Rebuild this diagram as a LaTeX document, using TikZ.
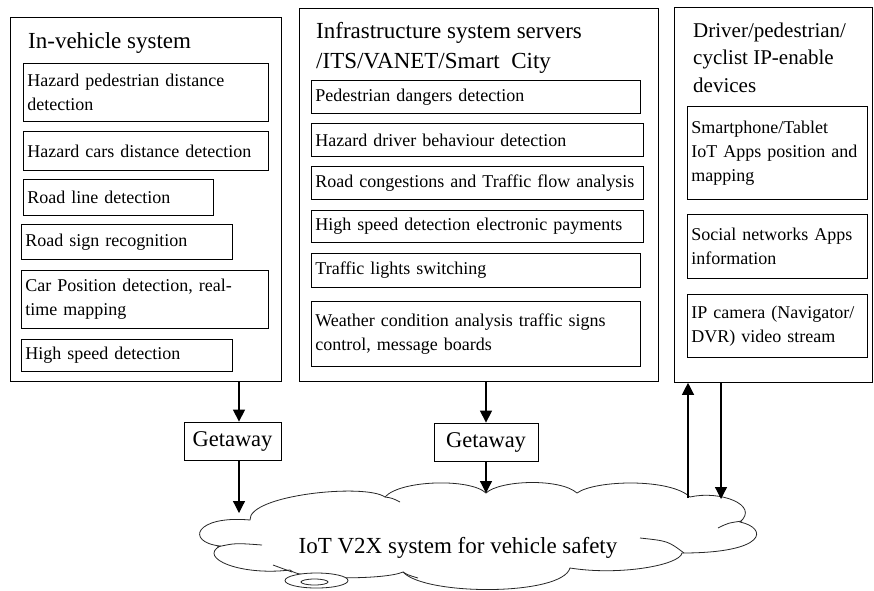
\documentclass[tikz,border=0pt]{standalone}
\usepackage{fontspec}
\setmainfont{Liberation Serif}
\usetikzlibrary{arrows.meta}

\tikzset{
    sysbox/.style={draw,line width=0.8pt,anchor=north west,inner sep=0pt},
    itembox/.style={draw,line width=0.8pt,anchor=north west,align=left,inner sep=4pt,font=\fontsize{18}{24}\selectfont},
    title/.style={anchor=west,align=left,inner sep=0pt,font=\fontsize{23}{30}\selectfont},
    gate/.style={draw,line width=0.8pt,inner sep=0pt,minimum height=38pt,font=\fontsize{22.5}{27}\selectfont},
    arr/.style={line width=1.2pt,-{Triangle[width=12pt,length=12pt]}},
    cloudline/.style={line width=0.8pt,draw=black!85}
}

\begin{document}
\begin{tikzpicture}[x=1pt,y=-1pt]
    \useasboundingbox (0,0) rectangle (874,590);

    \node[sysbox,minimum width=271pt,minimum height=364pt] (invehicle) at (10,17) {};
    \node[title] (invehicletitle) at (28,43) {In-vehicle system};
    \node[itembox,text width=237pt,minimum height=58pt] (hpd) at (23,63) {Hazard pedestrian distance\\detection};
    \node[itembox,text width=237pt,minimum height=39pt] (hcd) at (23,131) {Hazard cars distance detection};
    \node[itembox,text width=182pt,minimum height=36pt] (rld) at (23,179) {Road line detection};
    \node[itembox,text width=203pt,minimum height=35pt] (rsr) at (21,224) {Road sign recognition};
    \node[itembox,text width=239pt,minimum height=58pt] (cpd) at (21,270) {Car Position detection, real-\\time mapping};
    \node[itembox,text width=203pt,minimum height=32pt] (hsd) at (21,339) {High speed detection};

    \node[sysbox,minimum width=359pt,minimum height=373pt] (infra) at (299,8) {};
    \node[title] (infratitle) at (316,48) {Infrastructure system servers\\/ITS/VANET/Smart\ \ City};
    \node[itembox,text width=321pt,minimum height=33pt] (pdd) at (311,80) {Pedestrian dangers detection};
    \node[itembox,text width=324pt,minimum height=33pt] (hdb) at (311,123) {Hazard driver behaviour detection};
    \node[itembox,text width=324pt,minimum height=33pt] (rct) at (311,166) {Road congestions and Traffic flow analysis};
    \node[itembox,text width=324pt,minimum height=32pt] (hse) at (311,210) {High speed detection electronic payments};
    \node[itembox,text width=321pt,minimum height=34pt] (tls) at (311,253) {Traffic lights switching};
    \node[itembox,text width=321pt,minimum height=65pt] (wca) at (311,301) {Weather condition analysis traffic signs\\control, message boards};

    \node[sysbox,minimum width=198pt,minimum height=375pt] (devices) at (674,7) {};
    \node[title,font=\fontsize{21}{27.5}\selectfont] (devicestitle) at (693,57.5) {Driver/pedestrian/\\cyclist IP-enable\\devices};
    \node[itembox,text width=172pt,minimum height=93pt] (spt) at (687,106) {Smartphone/Tablet\\IoT Apps position and\\mapping};
    \node[itembox,text width=172pt,minimum height=64pt] (sna) at (687,214) {Social networks Apps\\information};
    \node[itembox,text width=172pt,minimum height=63pt] (ipc) at (687,294) {IP camera (Navigator/\\DVR) video stream};

    \node[gate,minimum width=97pt] (gw1) at (232.5,441) {Getaway};
    \node[gate,minimum width=104pt] (gw2) at (486,442) {Getaway};

    \draw[cloudline,fill=white] (250,520) .. controls (248,495) and (365,483) .. (385,497)
        .. controls (400,480) and (470,478) .. (486,493)
        .. controls (500,480) and (560,478) .. (577,493)
        .. controls (595,480) and (670,478) .. (690,497)
        .. controls (720,490) and (760,505) .. (740,522)
        .. controls (768,528) and (768,553) .. (682,553)
        .. controls (680,565) and (620,576) .. (570,568)
        .. controls (562,596) and (425,596) .. (403,572)
        .. controls (385,580) and (300,580) .. (290,570)
        .. controls (240,576) and (198,558) .. (220,546)
        .. controls (185,542) and (195,515) .. (250,520) -- cycle;
    \draw[cloudline] (217,547) .. controls (235,543) .. (262,545);
    \draw[cloudline] (385,497) .. controls (392,498) .. (400,502);
    \draw[cloudline] (718,528) .. controls (728,523) .. (742,521);
    \draw[cloudline] (640,538) .. controls (668,541) .. (684,553);
    \draw[cloudline] (403,572) .. controls (408,575) .. (418,578);
    \draw[cloudline] (273,565) .. controls (282,568) .. (292,572);
    \node[font=\fontsize{23}{27}\selectfont] (v2xtext) at (458,548) {IoT V2X system for vehicle safety};
    \draw[cloudline,fill=white] (316.5,580.5) ellipse [x radius=31.5pt,y radius=7.5pt];
    \draw[cloudline] (314.5,582) ellipse [x radius=13.5pt,y radius=3pt];

    \coordinate (x1) at (239,0);
    \coordinate (x2) at (486,0);
    \coordinate (c1) at (239,513);
    \coordinate (c2) at (486,493);
    \coordinate (c3) at (688,498);
    \coordinate (c4) at (721,499);

    \draw[arr] (x1 |- invehicle.south) -- (x1 |- gw1.north);
    \draw[arr] (x1 |- gw1.south) -- (c1);
    \draw[arr] (x2 |- infra.south) -- (x2 |- gw2.north);
    \draw[arr] (x2 |- gw2.south) -- (c2);
    \draw[arr] (c3) -- (c3 |- devices.south);
    \draw[arr] (c4 |- devices.south) -- (c4);
\end{tikzpicture}
\end{document}
